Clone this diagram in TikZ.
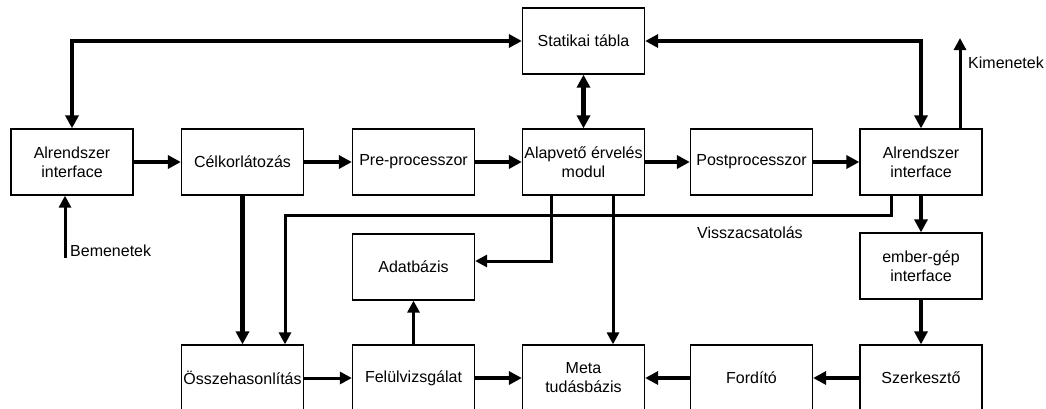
\documentclass[tikz,border=0pt]{standalone}
\usepackage{fontspec}
\setmainfont{Liberation Sans}
\usetikzlibrary{arrows.meta}
\begin{document}
\begin{tikzpicture}[x=1pt,y=-1pt,
  font=\fontsize{16}{19}\selectfont,
  box/.style={draw,line width=1.3pt,minimum width=122pt,minimum height=66pt,
    inner sep=0pt,align=center},
  big/.style={line width=4.5pt,-{Triangle[length=13pt,width=13pt]}},
  med/.style={line width=3pt,-{Triangle[length=12pt,width=12pt]}},
  lbl/.style={anchor=west,inner sep=0pt}]
\useasboundingbox (0,0) rectangle (1046,408);

% upper row
\node[box] (alr1) at (72,162) {Alrendszer\\interface};
\node[box] (celk) at (242.5,162) {Célkorlátozás};
\node[box] (pre)  at (413.5,162) {Pre-processzor};
\node[box] (alap) at (583.5,162) {Alapvető érvelés\\modul};
\node[box] (post) at (751.5,162) {Postprocesszor};
\node[box] (alr2) at (921,162) {Alrendszer\\interface};
\node[box] (stat) at (583.5,41) {Statikai tábla};

% middle row
\node[box] (adat)  at (413.5,267) {Adatbázis};
\node[box] (ember) at (921,266) {ember-gép\\interface};

% lower row
\node[box] (ossz) at (242.5,378) {Összehasonlítás};
\node[box] (felu) at (413.5,378) {Felülvizsgálat};
\node[box] (meta) at (583.5,378) {Meta\\tudásbázis};
\node[box] (ford) at (751.5,378) {Fordító};
\node[box] (szer) at (921,378) {Szerkesztő};

% free ends and labels
\coordinate (inp) at (65,258);
\coordinate (outp) at (960,38);
\coordinate (fb) at (285,215);
\node[lbl] (tin)  at (70,251) {Bemenetek};
\node[lbl] (tout) at (968,63) {Kimenetek};
\node[lbl] (tfb)  at (697,233) {Visszacsatolás};

% static table links
\draw[big,{Triangle[length=13pt,width=13pt]}-{Triangle[length=13pt,width=13pt]}]
  (alr1.north) |- (stat.west);
\draw[big,{Triangle[length=13pt,width=13pt]}-{Triangle[length=13pt,width=13pt]}]
  (alr2.north) |- (stat.east);
\draw[big,{Triangle[length=13pt,width=13pt]}-{Triangle[length=13pt,width=13pt]}]
  (stat.south) -- (alap.north);

% inputs and outputs
\draw[med] (inp) -- (inp |- alr1.south);
\draw[med] (outp |- alr2.north) -- (outp);

% main chain
\draw[big] (alr1) -- (celk);
\draw[big] (celk) -- (pre);
\draw[big] (pre) -- (alap);
\draw[big] (alap) -- (post);
\draw[big] (post) -- (alr2);

% downward links
\draw[big] (celk.south) -- (ossz.north);
\draw[med] (alr2.south -| 891,0) |- (fb) -- (fb |- ossz.north);
\draw[med] (alap.south -| 551,0) |- ([yshift=6pt]adat.east);
\draw[med] (alap.south -| 613,0) -- (meta.north -| 613,0);
\draw[big] (alr2.south) -- (ember.north);
\draw[big] (ember.south) -- (szer.north);

% lower chain
\draw[med] (ossz) -- (felu);
\draw[med] (felu.north) -- (adat.south);
\draw[big] (felu) -- (meta);
\draw[big] (ford) -- (meta);
\draw[big] (szer) -- (ford);
\end{tikzpicture}
\end{document}
